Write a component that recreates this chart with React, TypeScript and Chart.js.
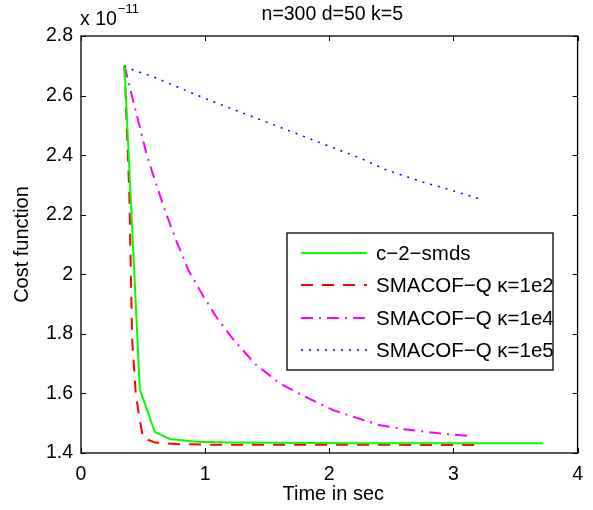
import React, { useEffect, useRef } from "react";
import { Chart, registerables } from "chart.js";

Chart.register(...registerables);

// values are in units of 1e-11
const xTicks = [0, 1, 2, 3, 4];
const yTicks = [1.4, 1.6, 1.8, 2.0, 2.2, 2.4, 2.6, 2.8];

const titleText = "n=300 d=50 k=5";
const xLabel = "Time in sec";
const yLabel = "Cost function";

const greenLabel = "c\u22122\u2212smds";
const greenX = [0.35, 0.474, 0.594, 0.715, 0.93, 1.2, 1.6, 2.2, 3.0, 3.72];
const greenY = [2.7, 1.614, 1.471, 1.447, 1.438, 1.435, 1.434, 1.433, 1.433, 1.433];

const redLabel = "SMACOF\u2212Q \u03ba=1e2";
const redX = [0.35, 0.39, 0.412, 0.442, 0.474, 0.5, 0.6, 0.77, 1.0, 3.19];
const redY = [2.7, 2.26, 1.78, 1.595, 1.51, 1.45, 1.435, 1.43, 1.428, 1.427];

const magentaLabel = "SMACOF\u2212Q \u03ba=1e4";
const magentaX = [0.35, 0.41, 0.47, 0.53, 0.6, 0.68, 0.77, 0.87, 0.98, 1.1, 1.23, 1.4, 1.6, 1.8, 2.03, 2.25, 2.4, 2.6, 2.78, 2.96, 3.14];
const magentaY = [2.7, 2.6, 2.5, 2.4, 2.31, 2.21, 2.11, 2.01, 1.93, 1.85, 1.78, 1.7, 1.634, 1.59, 1.544, 1.514, 1.494, 1.48, 1.471, 1.463, 1.457];

const blueLabel = "SMACOF\u2212Q \u03ba=1e5";
const blueX = [0.35, 0.42, 0.6, 0.8, 1.0, 1.25, 1.5, 1.75, 2.0, 2.25, 2.46, 2.75, 2.87, 3.0, 3.22];
const blueY = [2.7, 2.686, 2.66, 2.625, 2.59, 2.55, 2.51, 2.47, 2.43, 2.39, 2.35, 2.31, 2.296, 2.28, 2.252];

const FONT = "'Liberation Sans', Arial, Helvetica, sans-serif";

const pts = (xs: number[], ys: number[]) => xs.map((x, i) => ({ x, y: ys[i] }));

const fmt = (v: number) => String(Number(v.toFixed(1)));

const matlabPlugin = {
  id: "matlabDecor",
  afterDraw(chart: any) {
    const ctx = chart.ctx as CanvasRenderingContext2D;
    const a = chart.chartArea;
    const xs = chart.scales.x;
    const ys = chart.scales.y;
    ctx.save();
    // frame
    ctx.strokeStyle = "#000";
    ctx.lineWidth = 1.3;
    ctx.setLineDash([]);
    ctx.strokeRect(a.left, a.top, a.right - a.left, a.bottom - a.top);
    // inward ticks on all sides
    ctx.lineWidth = 1;
    const tl = 5;
    ctx.beginPath();
    xTicks.forEach((v) => {
      const p = Math.round(xs.getPixelForValue(v)) + 0.5;
      ctx.moveTo(p, a.bottom);
      ctx.lineTo(p, a.bottom - tl);
      ctx.moveTo(p, a.top);
      ctx.lineTo(p, a.top + tl);
    });
    yTicks.forEach((v) => {
      const p = Math.round(ys.getPixelForValue(v)) + 0.5;
      ctx.moveTo(a.left, p);
      ctx.lineTo(a.left + tl, p);
      ctx.moveTo(a.right, p);
      ctx.lineTo(a.right - tl, p);
    });
    ctx.stroke();

    // texts
    ctx.fillStyle = "#000";
    ctx.font = `19.5px ${FONT}`;
    ctx.textAlign = "center";
    ctx.textBaseline = "alphabetic";
    ctx.fillText(titleText, (a.left + a.right) / 2 + 3, 20);
    ctx.font = `20px ${FONT}`;
    ctx.textBaseline = "middle";
    ctx.fillText(xLabel, (a.left + a.right) / 2 + 4, 494);
    ctx.save();
    ctx.translate(22, (a.top + a.bottom) / 2);
    ctx.rotate(-Math.PI / 2);
    ctx.fillText(yLabel, 0, 0);
    ctx.restore();

    // exponent
    ctx.textAlign = "left";
    ctx.textBaseline = "alphabetic";
    ctx.font = `19.5px ${FONT}`;
    const base = "x 10";
    ctx.fillText(base, 80, 25);
    const w = ctx.measureText(base).width;
    ctx.font = `13px ${FONT}`;
    ctx.fillText("\u221211", 80 + w + 1, 13);

    // legend
    const lx = 287, ly = 233, lw = 266, lh = 137;
    ctx.fillStyle = "#fff";
    ctx.fillRect(lx, ly, lw, lh);
    ctx.strokeStyle = "#000";
    ctx.lineWidth = 1.3;
    ctx.strokeRect(lx, ly, lw, lh);
    const rows = [253, 285, 318, 350];
    chart.data.datasets.forEach((ds: any, i: number) => {
      const y = rows[i];
      ctx.save();
      ctx.strokeStyle = ds.borderColor;
      ctx.lineWidth = ds.borderWidth;
      ctx.setLineDash(ds.borderDash || []);
      ctx.beginPath();
      ctx.moveTo(301, y);
      ctx.lineTo(367, y);
      ctx.stroke();
      ctx.restore();
      ctx.fillStyle = "#000";
      ctx.font = `20.5px ${FONT}`;
      ctx.textAlign = "left";
      ctx.textBaseline = "middle";
      ctx.fillText(ds.label, 376, y + 1);
    });
    ctx.restore();
  },
};

export default function App() {
  const ref = useRef<HTMLCanvasElement | null>(null);
  useEffect(() => {
    if (!ref.current) return;
    const mk = (label: string, xs: number[], ys: number[], color: string, width: number, dash: number[]) => ({
      label,
      data: pts(xs, ys),
      borderColor: color,
      backgroundColor: color,
      borderWidth: width,
      borderDash: dash,
      pointRadius: 0,
      fill: false,
      tension: 0,
    });
    const chart = new Chart(ref.current, {
      type: "line",
      data: {
        datasets: [
          mk(greenLabel, greenX, greenY, "#00ff00", 2, []),
          mk(redLabel, redX, redY, "#ff0000", 2, [12, 9]),
          mk(magentaLabel, magentaX, magentaY, "#ff00ff", 2, [12, 6, 2, 6]),
          mk(blueLabel, blueX, blueY, "#0000ff", 1.5, [2, 6]),
        ] as any,
      },
      options: {
        responsive: false,
        animation: false,
        devicePixelRatio: 1,
        layout: { padding: { top: 36, right: 14, left: 0, bottom: 0 } },
        plugins: {
          legend: { display: false },
          tooltip: { enabled: false },
          title: { display: false },
        },
        scales: {
          x: {
            type: "linear",
            min: 0,
            max: 4,
            afterBuildTicks: (s: any) => {
              s.ticks = xTicks.map((v) => ({ value: v }));
            },
            afterFit: (s: any) => {
              s.height = 57;
            },
            grid: { display: false, drawTicks: false },
            border: { display: false },
            ticks: {
              color: "#000",
              font: { family: FONT, size: 19.5 },
              padding: 10,
              maxRotation: 0,
              autoSkip: false,
              callback: (v: any) => String(v),
            },
          },
          y: {
            type: "linear",
            min: 1.4,
            max: 2.8,
            afterBuildTicks: (s: any) => {
              s.ticks = yTicks.map((v) => ({ value: v }));
            },
            afterFit: (s: any) => {
              s.width = 81;
            },
            grid: { display: false, drawTicks: false },
            border: { display: false },
            ticks: {
              color: "#000",
              font: { family: FONT, size: 19.5 },
              padding: 8,
              autoSkip: false,
              callback: (v: any) => fmt(Number(v)),
            },
          },
        },
      } as any,
      plugins: [matlabPlugin],
    });
    return () => chart.destroy();
  }, []);
  return (
    <div style={{ position: "fixed", left: 0, top: 0, width: 593, height: 510, background: "#fff" }}>
      <canvas ref={ref} width={593} height={510} style={{ display: "block", width: 593, height: 510 }} />
    </div>
  );
}
